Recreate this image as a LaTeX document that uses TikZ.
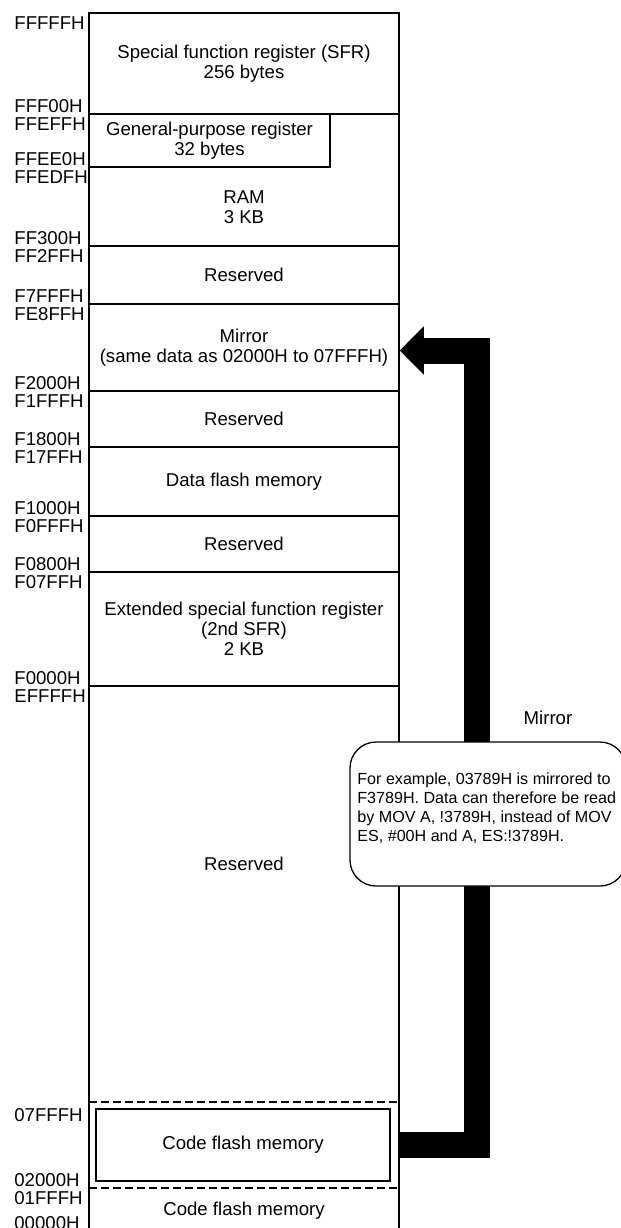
\documentclass[tikz,border=0pt]{standalone}
\usepackage{fontspec}
\setmainfont{Liberation Sans}
\usetikzlibrary{arrows.meta}
\begin{document}
\begin{tikzpicture}[x=0.5pt,y=-0.5pt,
  box/.style={line width=0.75pt},
  region/.style={draw, line width=0.75pt, minimum width=155pt, inner sep=0pt,
    font=\fontsize{9.3}{10}\selectfont, align=center},
  txt/.style={font=\fontsize{9.3}{10}\selectfont, align=center, inner sep=0pt},
  addr/.style={font=\fontsize{9.3}{10}\selectfont, anchor=base west, inner sep=0pt},
  sepline/.style={line width=1pt, dash pattern=on 4pt off 2pt},
  blockarrow/.style={line width=13pt, miter limit=10, -{Triangle[length=12pt,width=23.5pt]}},
  note/.style={draw, line width=0.65pt, fill=white, rounded corners=13pt, inner sep=0pt},
  notetxt/.style={font=\fontsize{8.05}{9.5}\selectfont, align=left, inner sep=0pt, anchor=west}
]
\useasboundingbox (0,0) rectangle (621,1228);
\clip (0,0) rectangle (621,1228);

\newcommand\memreg[4]{%
  \node[region, minimum height={(#3-#2)*0.5pt}] (#1) at (244,{(#2+#3)/2}) {#4};}

% outer memory column
\draw[box] (89,13) rectangle (399,1260);

\memreg{sfr}{13}{114}{Special function register (SFR)\\256 bytes}
\memreg{ram}{114}{246}{}
\node[region, minimum width=120.5pt, minimum height=26.5pt] (gpr) at (209.5,140.5)
  {General-purpose register\\32 bytes};
\node[txt] (ramtxt) at (244,207) {RAM\\3 KB};
\memreg{res1}{246}{304}{Reserved}
\memreg{mirror}{304}{391}{Mirror\\(same data as 02000H to 07FFFH)}
\memreg{res2}{391}{447}{Reserved}
\memreg{dflash}{447}{516}{Data flash memory}
\memreg{res3}{516}{572}{Reserved}
\memreg{esfr}{572}{686}{Extended special function register\\(2nd SFR)\\2 KB}

\node[txt] (res4) at (244,864) {Reserved};

% code flash part
\coordinate (dA1) at (89,1102);
\coordinate (dA2) at (399,1102);
\coordinate (dB1) at (89,1188);
\coordinate (dB2) at (399,1188);
\draw[sepline] (dA1) -- (dA2);
\draw[sepline] (dB1) -- (dB2);
\node[region, minimum width=147pt, minimum height=36pt] (cf) at (243,1145) {Code flash memory};
\node[txt] (cf0) at (244,1211) {Code flash memory};

% addresses
\node[addr] (a1) at (14,29) {FFFFFH};
\node[addr] (a2) at (14,112) {FFF00H};
\node[addr] (a3) at (14,130) {FFEFFH};
\node[addr] (a4) at (14,165) {FFEE0H};
\node[addr] (a5) at (14,183) {FFEDFH};
\node[addr] (a6) at (14,244) {FF300H};
\node[addr] (a7) at (14,262) {FF2FFH};
\node[addr] (a8) at (14,302) {F7FFFH};
\node[addr] (a9) at (14,320) {FE8FFH};
\node[addr] (a10) at (14,389) {F2000H};
\node[addr] (a11) at (14,407) {F1FFFH};
\node[addr] (a12) at (14,445) {F1800H};
\node[addr] (a13) at (14,463) {F17FFH};
\node[addr] (a14) at (14,514) {F1000H};
\node[addr] (a15) at (14,532) {F0FFFH};
\node[addr] (a16) at (14,570) {F0800H};
\node[addr] (a17) at (14,588) {F07FFH};
\node[addr] (a18) at (14,684) {F0000H};
\node[addr] (a19) at (14,702) {EFFFFH};
\node[addr] (a20) at (14,1121) {07FFFH};
\node[addr] (a21) at (14,1186) {02000H};
\node[addr] (a22) at (14,1204) {01FFFH};
\node[addr] (a23) at (14,1229) {00000H};

% mirror arrow
\coordinate (rside) at (398,0);
\coordinate (shaft) at (477,0);
\coordinate (mtip) at ([yshift=-1.5pt]mirror.east);
\draw[blockarrow] (cf.east -| rside) -| (shaft |- mtip) -- (mtip);

\node[txt] (mirrorlbl) at (548,718) {Mirror};

% callout
\node[note, minimum width=138pt, minimum height=72pt] (callout) at (488,814) {};
\node[notetxt] (callouttxt) at (357,808) {For example, 03789H is mirrored to\\F3789H. Data can therefore be read\\by MOV A, !3789H, instead of MOV\\ES, \#00H and A, ES:!3789H.};
\end{tikzpicture}
\end{document}
